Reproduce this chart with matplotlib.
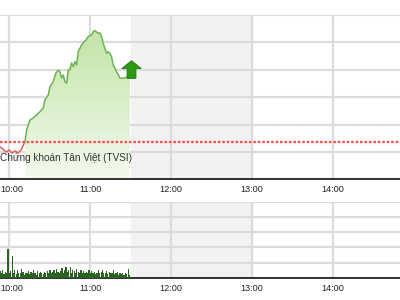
import matplotlib
matplotlib.use("Agg")
import matplotlib.pyplot as plt
import matplotlib.transforms as mtransforms
from matplotlib.path import Path
from matplotlib.colors import LinearSegmentedColormap
import numpy as np

plt.rcParams['font.family'] = ['Liberation Sans', 'DejaVu Sans']

# intraday index, time in minutes from midnight
price_t = [593.0, 595.2, 597.4, 599.7, 601.9, 604.1, 606.3, 608.6, 610.0, 611.5,
           612.8, 613.7, 615.2, 617.7, 620.2, 622.6, 625.1, 626.3, 628.8, 630.0,
           632.5, 634.5, 636.2, 637.4, 638.7, 639.9, 641.1, 642.4, 643.6, 644.8,
           646.1, 647.3, 648.6, 649.8, 651.0, 653.5, 654.7, 656.7, 658.4, 660.9,
           662.1, 663.4, 664.6, 665.8, 667.1, 668.3, 669.5, 670.8, 672.0, 673.2,
           674.5, 675.7, 676.9, 678.2, 679.4, 680.6, 681.9, 684.3, 686.8, 689.3]
price_v = [556.96, 556.81, 556.59, 556.74, 556.52, 556.67, 556.52, 556.74, 557.03, 557.35,
           558.20, 558.49, 558.93, 559.08, 559.30, 559.54, 559.81, 560.39, 560.76, 561.36,
           561.73, 562.37, 562.58, 562.46, 562.00, 562.22, 561.73, 561.63, 562.58, 562.58,
           563.10, 562.83, 563.19, 562.95, 563.92, 564.41, 564.56, 564.78, 565.02, 565.14,
           565.38, 565.46, 565.36, 565.27, 565.29, 565.02, 564.53, 564.17, 563.80, 563.92,
           563.80, 563.56, 562.95, 562.73, 562.44, 562.29, 561.98, 561.98, 562.05, 562.15]
ref_price = 557.35

vol_t = list(range(593, 690))
vol_v = [0.45, 0.3, 0.5, 0.25, 0.4, 0.35, 1.9, 0.3, 0.45, 1.45,
         0.3, 0.5, 0.25, 0.55, 0.35, 0.3, 0.6, 0.4, 0.2, 0.35,
         0.3, 0.45, 0.25, 0.4, 0.3, 0.5, 0.35, 0.2, 0.45, 0.3,
         0.4, 0.35, 0.25, 0.4, 0.3, 0.45, 0.35, 0.5, 0.3, 0.4,
         0.55, 0.35, 0.6, 0.4, 0.3, 0.45, 0.65, 0.35, 0.5, 0.75,
         0.4, 0.55, 0.7, 0.35, 0.5, 0.45, 0.3, 0.6, 0.4, 0.35,
         0.5, 0.3, 0.45, 0.35, 0.4, 0.3, 0.5, 0.35, 0.45, 0.3,
         0.4, 0.25, 0.35, 0.5, 0.3, 0.4, 0.55, 0.3, 0.35, 0.45,
         0.25, 0.4, 0.3, 0.35, 0.5, 0.25, 0.3, 0.4, 0.2, 0.3,
         0.25, 0.35, 0.2, 0.3, 0.25, 0.6, 0.2]

hour_ticks = [600, 660, 720, 780, 840]
hour_labels = ["10:00", "11:00", "12:00", "13:00", "14:00"]
lunch = (690, 780)
title = "Chứng khoán Tân Việt (TVSI)"

xmin, xmax = 593.0, 889.6
grid_c = "#dcdcdc"

fig = plt.figure(figsize=(4, 3), dpi=100)
ax = fig.add_axes([0, 0.4023, 1, 0.5477])
axv = fig.add_axes([0, 0.0733, 1, 0.255])


def style(a, ylim, ystep):
    a.set_xlim(xmin, xmax)
    a.set_ylim(*ylim)
    a.axvspan(*lunch, color="#f2f2f2", zorder=0, lw=0)
    a.set_yticks(np.arange(ylim[0], ylim[1] + 0.01, ystep))
    a.set_xticks(hour_ticks)
    a.set_xticklabels(hour_labels, fontsize=6.6, color="#222222")
    a.tick_params(axis="x", length=0, pad=4)
    a.tick_params(axis="y", left=False, labelleft=False)
    a.grid(True, color=grid_c, lw=1.6, zorder=1)
    a.set_axisbelow(True)
    for s in ("left", "right", "top"):
        a.spines[s].set_visible(False)
    a.spines["bottom"].set_color("#111111")
    a.spines["bottom"].set_linewidth(1.2)
    a.patch.set_alpha(0)
    # first label sits at the left edge, nudge it in
    lab = a.get_xticklabels()[0]
    lab.set_transform(lab.get_transform() +
                      mtransforms.ScaledTranslation(2 / 100, 0, fig.dpi_scale_trans))


style(ax, (554.6, 566.6), 2)
style(axv, (0, 5), 1)

t = np.array(price_t)
v = np.array(price_v)
cross = 9  # index where index crosses the reference

# gradient fill under the green part
gt = np.concatenate([[t[cross]], t[cross:], [t[-1]]])
gv = np.concatenate([[554.6], v[cross:], [554.6]])
poly = ax.fill(gt, gv, facecolor="none", edgecolor="none")[0]
grad = np.linspace(0, 1, 256).reshape(-1, 1)
cmap = LinearSegmentedColormap.from_list("g", ["#f4faef", "#bde2a0"])
im = ax.imshow(grad, cmap=cmap, aspect="auto", origin="lower",
               extent=[xmin, xmax, 554.6, 566.6], zorder=2)
im.set_clip_path(poly)

ax.plot(t[:cross + 1], v[:cross + 1], color="#e06060", lw=1.1, zorder=4)
ax.plot(t[cross:], v[cross:], color="#6cb453", lw=1.1, zorder=4)
ax.axhline(ref_price, color="#ff5050", lw=1.6, ls=(0, (1.2, 0.8)), zorder=3)

# up arrow marker
arrow = Path([(-0.25, -0.5), (0.25, -0.5), (0.25, 0.05), (0.55, 0.05), (0, 0.5),
              (-0.55, 0.05), (-0.25, 0.05), (-0.25, -0.5)])
off = mtransforms.ScaledTranslation(1 / 100, 7 / 100, fig.dpi_scale_trans)
ax.plot([t[-1]], [v[-1]], marker=arrow, ms=14, color="#2e9a14",
        mec="#1f7010", mew=0.6, transform=ax.transData + off, zorder=6,
        clip_on=False)

ax.text(xmin, 556.15, title, fontsize=7.2, color="#333333", va="center",
        ha="left", zorder=5)

axv.bar(vol_t, vol_v, width=0.9, color="#2a6322", zorder=3)

fig.savefig("out.png", dpi=100)
